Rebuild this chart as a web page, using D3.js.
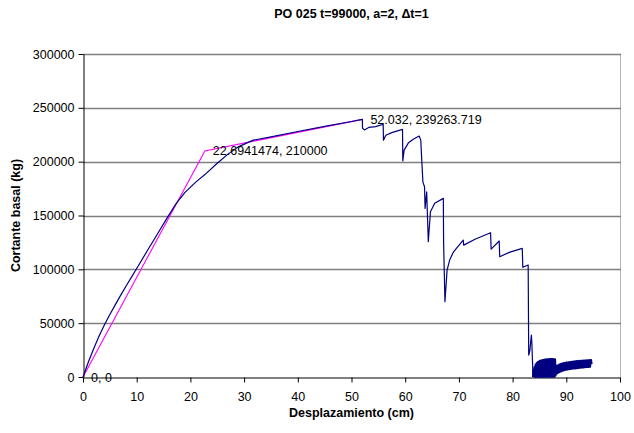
<!DOCTYPE html>
<html>
<head>
<meta charset="utf-8">
<script src="https://cdn.jsdelivr.net/npm/d3@7"></script>
<style>
  body { margin: 0; background: #fff; }
  text { font-family: "Liberation Sans", Arial, sans-serif; }
</style>
</head>
<body>
<svg id="chart" width="634" height="433"></svg>
<script>
// datos
let xTicks = [0, 10, 20, 30, 40, 50, 60, 70, 80, 90, 100];
let yTicks = [0, 50000, 100000, 150000, 200000, 250000, 300000];

// curva de capacidad (desplazamiento cm, cortante kg)
let curvaCapacidad = [
  [0, 0], [1, 14000], [2, 26500], [3, 38000], [4, 48500], [5, 58000], [6, 67000],
  [7, 75800], [8, 84300], [9, 92500], [10, 100800], [12, 117500], [14, 134000],
  [15.7, 148000], [17.4, 161500], [19, 171500], [21, 181000], [22.7, 188000],
  [25, 198500], [27, 207000], [29, 214000], [31.7, 220000],
  [35, 223000], [40, 228000], [45, 232800], [50, 237300], [52.03, 239200],
  [52.05, 231000], [52.4, 229500], [53.2, 231800], [54.5, 232600], [55.9, 234800],
  [55.95, 220000], [56.4, 224500], [57.5, 227000], [59.5, 230000],
  [59.55, 200800], [59.8, 210700], [60.6, 217500], [61.5, 220800], [62.6, 223800],
  [62.9, 220000], [63.1, 200000], [63.3, 181000], [63.6, 176700], [63.7, 156600],
  [64.0, 172000], [64.3, 125600], [64.7, 153500], [65.5, 161300], [67.1, 165900],
  [67.15, 125600], [67.4, 69900], [67.8, 99300], [68.3, 109000], [69.0, 116300],
  [70.8, 127200], [70.9, 122500], [73, 128000], [75.9, 134000], [76.0, 118800],
  [77.5, 126300], [77.6, 111700], [79.5, 116000], [81.8, 119500], [81.9, 101900],
  [82.9, 104000], [83.0, 20400], [83.2, 24000], [83.5, 39000], [83.6, 30000], [83.8, 0]
];

// ciclos al final de la curva
let ciclosFinales = [
  [83.8, 0],
  [83.9, 7000], [84.0, 300], [84.1, 9500], [84.2, 200], [84.3, 11500], [84.4, 400],
  [84.5, 12800], [84.6, 200], [84.7, 13800], [84.8, 300], [84.9, 14400], [85.0, 200],
  [85.1, 14900], [85.2, 400], [85.3, 15200], [85.4, 200], [85.5, 15500], [85.6, 300],
  [85.7, 15700], [85.8, 200], [85.9, 15900], [86.0, 400], [86.1, 16100], [86.2, 200],
  [86.3, 16300], [86.4, 300], [86.5, 16400], [86.6, 200], [86.7, 16500], [86.8, 400],
  [86.9, 16600], [87.0, 200], [87.1, 16700], [87.2, 300], [87.3, 16700], [87.4, 200],
  [87.5, 16600], [87.6, 400], [87.7, 16500], [87.8, 300], [87.9, 16300], [88.0, 1500],
  [88.1, 9000], [88.2, 3000], [88.3, 10500], [88.4, 3800], [88.6, 11300], [88.7, 4500],
  [88.9, 12000], [89.0, 5200], [89.2, 12500], [89.3, 5800], [89.5, 12900], [89.6, 6300],
  [89.8, 13200], [89.9, 6700], [90.1, 13500], [90.2, 7000], [90.4, 13700], [90.5, 7300],
  [90.7, 13900], [90.8, 7500], [91.0, 14100], [91.1, 7700], [91.3, 14300], [91.4, 7900],
  [91.6, 14500], [91.7, 8100], [91.9, 14700], [92.0, 8300], [92.2, 14800], [92.3, 8500],
  [92.5, 14900], [92.6, 8700], [92.8, 15000], [92.9, 8800], [93.1, 15200], [93.2, 9000],
  [93.4, 15300], [93.5, 9200], [93.7, 15400], [93.8, 9300], [94.0, 15500], [94.1, 9400],
  [94.3, 15600], [94.4, 9500], [94.6, 15700], [94.7, 12000]
];

let bilineal = [[0, 0], [22.6941474, 210000], [52.032, 239263.719]];
let etiquetas = ["0, 0", "22.6941474, 210000", "52.032, 239263.719"];

let svg = d3.select("#chart");
let margin = { left: 83, right: 14, top: 54, bottom: 56 };
let width = 634 - margin.left - margin.right;
let height = 433 - margin.top - margin.bottom;

let x = d3.scaleLinear().domain([0, 100]).range([margin.left, margin.left + width]);
let y = d3.scaleLinear().domain([0, 300000]).range([margin.top + height, margin.top]);

// borde derecho del area
svg.append("line")
  .attr("x1", x(100) + 0.5).attr("x2", x(100) + 0.5)
  .attr("y1", y(300000)).attr("y2", y(0))
  .attr("stroke", "#b4b4b4");

// lineas de division
svg.append("g")
  .selectAll("line")
  .data(yTicks.filter(d => d > 0))
  .enter()
  .append("line")
  .attr("x1", x(0)).attr("x2", x(100) + 1)
  .attr("y1", d => Math.round(y(d)) + 0.5)
  .attr("y2", d => Math.round(y(d)) + 0.5)
  .attr("stroke", "#7f7f7f")
  .attr("stroke-width", 1.3);

let xAxis = svg.append("g")
  .attr("transform", `translate(0, ${Math.round(y(0)) + 0.5})`)
  .call(d3.axisBottom(x).tickValues(xTicks).tickSize(5).tickSizeOuter(0).tickPadding(10));

let yAxis = svg.append("g")
  .attr("transform", `translate(${Math.round(x(0)) + 0.5}, 0)`)
  .call(d3.axisLeft(y).tickValues(yTicks).tickSize(5).tickSizeOuter(0).tickPadding(4).tickFormat(d3.format("d")));

[xAxis, yAxis].forEach(a => {
  a.selectAll("text").attr("font-size", 12.5).attr("fill", "#000")
    .attr("font-family", "'Liberation Sans', Arial, sans-serif");
  a.selectAll("line").attr("stroke", "#000");
  a.select(".domain").attr("stroke", "#000");
});

let line = d3.line().x(d => x(d[0])).y(d => y(d[1]));

// bilineal
svg.append("path")
  .datum(bilineal)
  .attr("d", line)
  .attr("fill", "none")
  .attr("stroke", "#ff00ff")
  .attr("stroke-width", 1.1);

// curva de capacidad
svg.append("path")
  .datum(curvaCapacidad)
  .attr("d", line)
  .attr("fill", "none")
  .attr("stroke", "#000080")
  .attr("stroke-width", 1.2)
  .attr("stroke-linejoin", "round");

// los ciclos se ven como mancha solida
svg.append("path")
  .datum(ciclosFinales)
  .attr("d", line)
  .attr("fill", "none")
  .attr("stroke", "#000080")
  .attr("stroke-width", 2.2)
  .attr("stroke-linejoin", "round");

// etiquetas de puntos
svg.append("g")
  .selectAll("text")
  .data(bilineal)
  .enter()
  .append("text")
  .text((d, i) => etiquetas[i])
  .attr("x", d => x(d[0]) + 8)
  .attr("y", d => y(d[1]) + 4.5)
  .attr("font-size", 12.5)
  .attr("fill", "#000");

// titulos
svg.append("text")
  .text("PO 025 t=99000, a=2, \u0394t=1")
  .attr("x", (x(0) + x(100)) / 2)
  .attr("y", 18)
  .attr("text-anchor", "middle")
  .attr("font-size", 12.5)
  .attr("font-weight", "bold");

svg.append("text")
  .text("Desplazamiento (cm)")
  .attr("x", (x(0) + x(100)) / 2)
  .attr("y", 417)
  .attr("text-anchor", "middle")
  .attr("font-size", 12.5)
  .attr("font-weight", "bold");

svg.append("text")
  .text("Cortante basal (kg)")
  .attr("transform", `translate(20, ${(y(0) + y(300000)) / 2}) rotate(-90)`)
  .attr("text-anchor", "middle")
  .attr("font-size", 12.5)
  .attr("font-weight", "bold");
</script>
</body>
</html>
